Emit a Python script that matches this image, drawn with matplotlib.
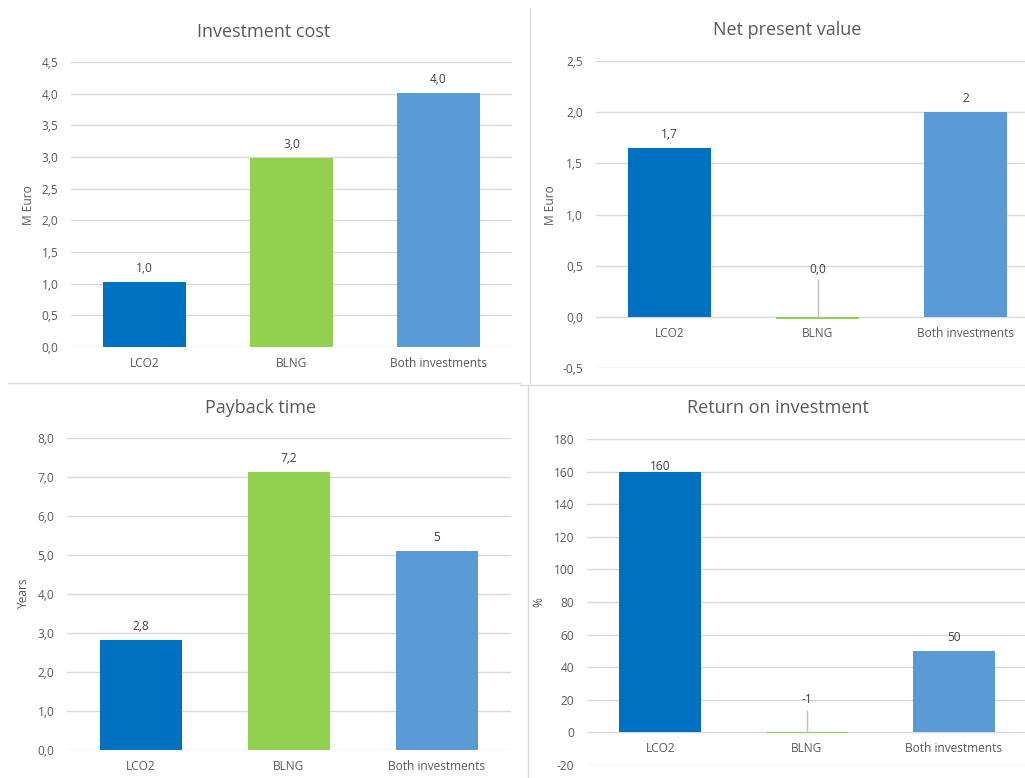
import matplotlib
matplotlib.use("Agg")
import matplotlib.pyplot as plt
from matplotlib.lines import Line2D
from matplotlib.ticker import FuncFormatter, MultipleLocator

plt.rcParams["font.family"] = ["Open Sans", "DejaVu Sans"]

categories = ["LCO2", "BLNG", "Both investments"]
bar_colors = ["#0070C0", "#92D050", "#5B9BD5"]

invest_cost = [1.03, 2.98, 4.01]
invest_labels = ["1,0", "3,0", "4,0"]

npv = [1.65, -0.02, 2.0]
npv_labels = ["1,7", "0,0", "2"]

payback = [2.82, 7.14, 5.11]
payback_labels = ["2,8", "7,2", "5"]

roi = [160, -0.6, 50]
roi_labels = ["160", "-1", "50"]

W, H = 1025, 778
TXT = "#595959"
GRID = "#D9D9D9"
SMALL = 8.6


def rect(l, t, r, b):
    return [l / W, 1 - b / H, (r - l) / W, (b - t) / H]


def comma(dec):
    return FuncFormatter(lambda v, p: f"{v:.{dec}f}".replace(".", ","))


def panel(box, values, ylim, step, dec, zero_axis=False):
    ax = fig.add_axes(rect(*box))
    x = range(len(values))
    ax.bar(x, values, width=0.56, color=bar_colors, zorder=3)
    ax.set_xlim(-0.5, 2.5)
    ax.set_ylim(*ylim)
    ax.yaxis.set_major_locator(MultipleLocator(step))
    ax.yaxis.set_major_formatter(comma(dec))
    ax.grid(axis="y", color=GRID, lw=1, zorder=0)
    for s in ax.spines.values():
        s.set_visible(False)
    if zero_axis:
        # category labels sit on the zero line
        ax.spines["bottom"].set_position(("data", 0))
    ax.set_xticks(list(x))
    ax.set_xticklabels(categories)
    ax.tick_params(length=0, labelsize=SMALL, colors=TXT)
    ax.tick_params(axis="y", pad=9)
    ax.tick_params(axis="x", pad=7)
    return ax


def label_bars(ax, values, labels, skip=(), offset=5):
    for i, (v, t) in enumerate(zip(values, labels)):
        if i in skip:
            continue
        ax.annotate(t, (i, max(v, 0)), xytext=(0, offset), textcoords="offset points",
                    ha="center", va="bottom", fontsize=SMALL, color="#404040")


def leader(ax, i, text, ytext, yline):
    ax.annotate(text, (i, 0), xytext=(i, ytext), textcoords="data",
                ha="center", va="center", fontsize=SMALL, color="#404040")
    ax.plot([i, i], [yline, 0], color="#BFBFBF", lw=1, zorder=4)


fig = plt.figure(figsize=(W / 100, H / 100), dpi=100)

# investment cost
ax1 = panel((71, 62, 512, 347), invest_cost, (0, 4.5), 0.5, 1)
label_bars(ax1, invest_cost, invest_labels)

# net present value
ax2 = panel((595.5, 61, 1039.5, 368), npv, (-0.5, 2.5), 0.5, 1, zero_axis=True)
label_bars(ax2, npv, npv_labels, skip=(1,))
leader(ax2, 1, npv_labels[1], 0.46, 0.36)

# payback time
ax3 = panel((67, 438, 511, 750), payback, (0, 8), 1, 1)
label_bars(ax3, payback, payback_labels)

# return on investment
ax4 = panel((587, 439, 1027, 765), roi, (-20, 180), 20, 0, zero_axis=True)
label_bars(ax4, roi[:1], roi_labels[:1], offset=-1)
label_bars(ax4, roi, roi_labels, skip=(0, 1))
leader(ax4, 1, roi_labels[1], 20, 13)

titles = ["Investment cost", "Net present value", "Payback time", "Return on investment"]
title_pos = [(264, 32), (787, 30), (261, 408), (778, 408)]
for t, (px, py) in zip(titles, title_pos):
    fig.text(px / W, 1 - py / H, t, ha="center", va="center", fontsize=13, color=TXT)

ylabels = ["M Euro", "M Euro", "Years", "%"]
ylabel_pos = [(28, 205), (551, 205), (23, 593), (539, 602)]
for t, (px, py) in zip(ylabels, ylabel_pos):
    fig.text(px / W, 1 - py / H, t, ha="center", va="center", rotation=90,
             fontsize=SMALL, color=TXT)

# panel borders
for xs, ys in [((8, 520), (383, 383)), ((530, 530), (8, 383)),
               ((520, 1025), (385, 385)), ((528, 528), (385, 778))]:
    fig.add_artist(Line2D([x / W for x in xs], [1 - y / H for y in ys],
                          color=GRID, lw=1))

fig.savefig("out.png", dpi=100)
